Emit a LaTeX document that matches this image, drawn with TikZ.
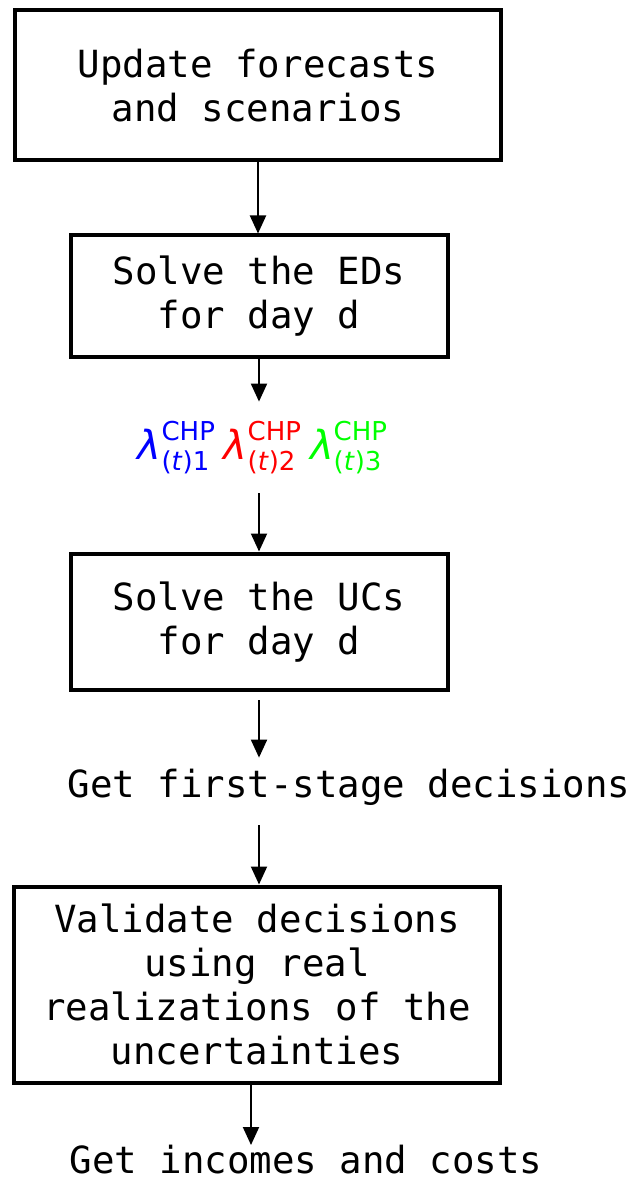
\documentclass[tikz,border=0pt]{standalone}
\usepackage{amsmath}
\usepackage{xcolor}
\usepackage{fontspec}
\setmonofont{DejaVu Sans Mono}
\newfontfamily\lamfont{DejaVu Sans}
\usetikzlibrary{arrows.meta}
\tikzset{
  stepbox/.style={draw, line width=2pt, align=center, inner sep=0pt},
  flowtext/.style={font=\ttfamily\fontsize{18.7}{22}\selectfont},
  flowarrow/.style={line width=1pt, -{Triangle[width=8pt,length=9pt]}},
}
\newcommand{\chpprice}[2]{\textcolor{#1}{$\hbox{\lamfont\itshape λ}^{\hbox{\lamfont\fontsize{13}{15}\selectfont CHP}}_{\hbox{\lamfont\fontsize{13}{15}\selectfont(\textit{t})#2}}$}}

\begin{document}
\begin{tikzpicture}[x=0.5pt,y=-0.5pt]
  \useasboundingbox (0,0) rectangle (636,1181);
  % boxes
  \node[stepbox, flowtext, minimum width=243pt, minimum height=75.25pt] (upd) at (258,85.25) {Update forecasts\\and scenarios};
  \node[stepbox, flowtext, minimum width=188.5pt, minimum height=61pt] (eds) at (259,296.5) {Solve the EDs\\for day d};
  \node[inner sep=0pt, minimum height=45.5pt, font=\fontsize{20}{22}\selectfont] (lam) at (263,447.5)
    {\chpprice{blue}{1}\hspace{4pt}\chpprice{red}{2}\hspace{4pt}\chpprice{green}{3}};
  \node[stepbox, flowtext, minimum width=188.5pt, minimum height=68.25pt] (ucs) at (259,621.75) {Solve the UCs\\for day d};
  \node[flowtext, inner sep=0pt, minimum height=29pt] (dec) at (349,787) {Get first-stage decisions};
  \node[stepbox, flowtext, minimum width=243pt, minimum height=98pt] (val) at (257,984.5)
    {Validate decisions\\using real\\realizations of the\\uncertainties};
  \node[flowtext, inner sep=0pt, anchor=north] (res) at (306,1145) {Get incomes and costs};
  % arrows
  \draw[flowarrow] (upd.south) -- (upd.south |- eds.north);
  \draw[flowarrow] (eds.south) -- (eds.south |- lam.north);
  \draw[flowarrow] (eds.south |- lam.south) -- (ucs.north);
  \draw[flowarrow] ([yshift=-4pt]ucs.south) -- (ucs.south |- dec.north);
  \draw[flowarrow] ([yshift=-4.5pt]ucs.south |- dec.south) -- (ucs.south |- val.north);
  \draw[flowarrow] ([xshift=-3pt]val.south) -- ([xshift=-3pt]val.south |- res.north);
\end{tikzpicture}
\end{document}
